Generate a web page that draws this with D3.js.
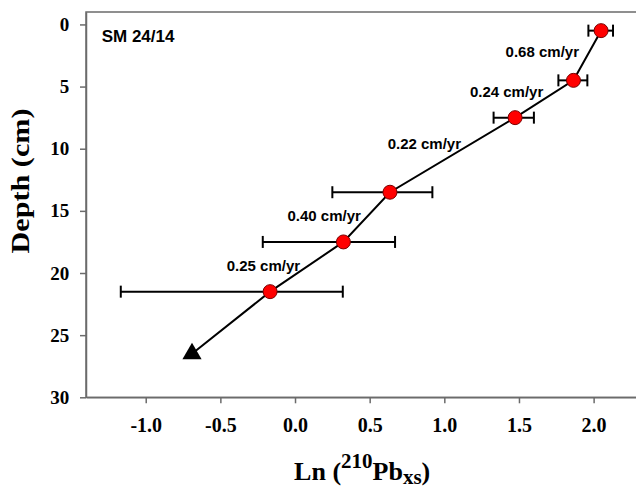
<!DOCTYPE html>
<html>
<head>
<meta charset="utf-8">
<script src="https://cdn.jsdelivr.net/npm/d3@7"></script>
<style>
  body { margin: 0; background: #fff; }
  .tick text { font-family: "Liberation Serif", "Times New Roman", serif; font-weight: bold; fill: #000; }
  .axis path, .axis line { stroke: #6b6b6b; stroke-width: 1.5; }
</style>
</head>
<body>
<div id="vis"></div>
<script>
const FRAME_WIDTH = 636;
const FRAME_HEIGHT = 488;
const MARGINS = {left: 86, top: 12, bottom: 91};

// data
const depth = [0.5, 4.5, 7.5, 13.5, 17.5, 21.5];
const lnPb = [2.05, 1.865, 1.474, 0.636, 0.324, -0.167];
const lnLow = [1.965, 1.764, 1.33, 0.25, -0.216, -1.167];
const lnHigh = [2.13, 1.958, 1.60, 0.92, 0.67, 0.32];

// extrapolated end point (triangle)
const endPoint = {x: -0.69, depth: 26.5};

// sedimentation rate labels (right end of text, baseline depth)
const rateLabels = ["0.68 cm/yr", "0.24 cm/yr", "0.22 cm/yr", "0.40 cm/yr", "0.25 cm/yr"];
const rateX = [1.902, 1.663, 1.112, 0.441, 0.034];
const rateDepth = [2.6, 5.8, 10.0, 15.8, 19.8];

const xTicks = [-1.0, -0.5, 0.0, 0.5, 1.0, 1.5, 2.0];
const yTicks = [0, 5, 10, 15, 20, 25, 30];

const X_SCALE = d3.scaleLinear()
                  .domain([-1.4, 2.3])
                  .range([MARGINS.left, MARGINS.left + 3.7 * 149.3]);

const Y_SCALE = d3.scaleLinear()
                  .domain([-1, 30])
                  .range([MARGINS.top, FRAME_HEIGHT - MARGINS.bottom + 0.3]);

const svg = d3.select("#vis")
              .append("svg")
                .attr("width", FRAME_WIDTH)
                .attr("height", FRAME_HEIGHT);

// plot frame
svg.append("rect")
    .attr("x", X_SCALE(-1.4))
    .attr("y", Y_SCALE(-1))
    .attr("width", X_SCALE(2.3) - X_SCALE(-1.4))
    .attr("height", Y_SCALE(30) - Y_SCALE(-1))
    .attr("fill", "none")
    .attr("stroke", "#6b6b6b")
    .attr("stroke-width", 1.5);

// axes
svg.append("g")
    .attr("class", "axis")
    .attr("transform", "translate(0," + Y_SCALE(30) + ")")
    .call(d3.axisBottom(X_SCALE)
            .tickValues(xTicks)
            .tickFormat(d => d.toFixed(1))
            .tickSize(6)
            .tickPadding(15)
            .tickSizeOuter(0))
    .selectAll("text")
      .attr("font-size", 20);

svg.append("g")
    .attr("class", "axis")
    .attr("transform", "translate(" + X_SCALE(-1.4) + ",0)")
    .call(d3.axisLeft(Y_SCALE)
            .tickValues(yTicks)
            .tickSize(6)
            .tickPadding(10.7)
            .tickSizeOuter(0))
    .selectAll("text")
      .attr("font-size", 19);

// axis titles
const xTitle = svg.append("text")
    .attr("x", (X_SCALE(-1.4) + X_SCALE(2.3)) / 2)
    .attr("y", 480)
    .attr("text-anchor", "middle")
    .attr("font-family", "Liberation Serif, Times New Roman, serif")
    .attr("font-weight", "bold")
    .attr("font-size", 26);
xTitle.append("tspan").text("Ln (");
xTitle.append("tspan").attr("font-size", 21).attr("dy", -12).text("210");
xTitle.append("tspan").attr("dy", 12).text("Pb");
xTitle.append("tspan").attr("font-size", 21).attr("dy", 4).text("xs");
xTitle.append("tspan").attr("dy", -4).text(")");

svg.append("text")
    .attr("transform", "translate(28.7,181) rotate(-90)")
    .attr("text-anchor", "middle")
    .attr("font-family", "Liberation Serif, Times New Roman, serif")
    .attr("font-weight", "bold")
    .attr("font-size", 25)
    .attr("textLength", 145)
    .attr("lengthAdjust", "spacingAndGlyphs")
    .text("Depth (cm)");

// core label
svg.append("text")
    .attr("x", 101.7)
    .attr("y", 41.7)
    .attr("font-family", "Liberation Sans, Arial, sans-serif")
    .attr("font-weight", "bold")
    .attr("font-size", 17)
    .text("SM 24/14");

// connecting line through the points down to the triangle
const linePts = depth.map((d, i) => [lnPb[i], d]).concat([[endPoint.x, endPoint.depth]]);
svg.append("path")
    .datum(linePts)
    .attr("d", d3.line().x(d => X_SCALE(d[0])).y(d => Y_SCALE(d[1])))
    .attr("fill", "none")
    .attr("stroke", "#000")
    .attr("stroke-width", 2);

// error bars
const bars = svg.selectAll(".errbar")
    .data(depth)
    .enter()
    .append("g")
      .attr("class", "errbar")
      .attr("stroke", "#000")
      .attr("stroke-width", 2);

bars.append("line")
    .attr("x1", (d, i) => X_SCALE(lnLow[i]))
    .attr("x2", (d, i) => X_SCALE(lnHigh[i]))
    .attr("y1", d => Y_SCALE(d))
    .attr("y2", d => Y_SCALE(d));
bars.append("line")
    .attr("x1", (d, i) => X_SCALE(lnLow[i]))
    .attr("x2", (d, i) => X_SCALE(lnLow[i]))
    .attr("y1", d => Y_SCALE(d) - 6)
    .attr("y2", d => Y_SCALE(d) + 6);
bars.append("line")
    .attr("x1", (d, i) => X_SCALE(lnHigh[i]))
    .attr("x2", (d, i) => X_SCALE(lnHigh[i]))
    .attr("y1", d => Y_SCALE(d) - 6)
    .attr("y2", d => Y_SCALE(d) + 6);

// points
svg.selectAll(".point")
    .data(depth)
    .enter()
    .append("circle")
      .attr("class", "point")
      .attr("cx", (d, i) => X_SCALE(lnPb[i]))
      .attr("cy", d => Y_SCALE(d))
      .attr("r", 7)
      .attr("fill", "#ff0000")
      .attr("stroke", "#7a0000")
      .attr("stroke-width", 1);

svg.append("path")
    .attr("d", d3.symbol().type(d3.symbolTriangle).size(160)())
    .attr("transform", "translate(" + X_SCALE(endPoint.x) + "," + Y_SCALE(endPoint.depth) + ")")
    .attr("fill", "#000");

// rate labels
svg.selectAll(".rate")
    .data(rateLabels)
    .enter()
    .append("text")
      .attr("class", "rate")
      .attr("x", (d, i) => X_SCALE(rateX[i]))
      .attr("y", (d, i) => Y_SCALE(rateDepth[i]))
      .attr("text-anchor", "end")
      .attr("font-family", "Liberation Sans, Arial, sans-serif")
      .attr("font-weight", "bold")
      .attr("font-size", 15)
      .text(d => d);
</script>
</body>
</html>
